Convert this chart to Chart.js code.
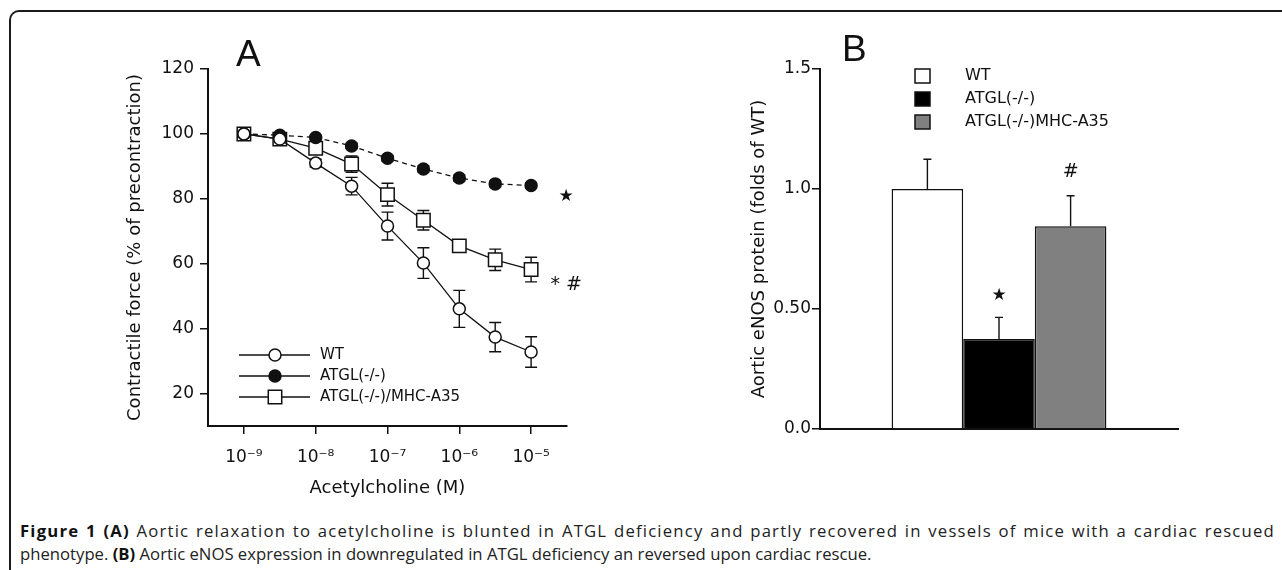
<!DOCTYPE html>
<html>
<head>
<meta charset="utf-8">
<script src="https://cdn.jsdelivr.net/npm/chart.js@4.4.1/dist/chart.umd.min.js"></script>
<style>
  html, body { margin: 0; padding: 0; background: #fff; }
  body { width: 1282px; height: 570px; position: relative; overflow: hidden; }
  #frame { position: absolute; left: 9px; top: 10px; width: 1300px; height: 620px;
           border-left: 2px solid #1a1a1a; border-top: 2px solid #1a1a1a; border-top-left-radius: 10px; }
  .wrap { position: absolute; }
  #wrapA { left: 100px; top: 30px; }
  #wrapB { left: 730px; top: 30px; }
  .panel { position: absolute; font: 37px "Liberation Sans"; line-height: 1; color: #111; }
  .cap { position: absolute; left: 20px; font: 16.7px "Open Sans"; line-height: 23px; color: #222; white-space: nowrap; }
  #cap1 { top: 519px; width: 1255px; white-space: normal; letter-spacing: 1.2px;
          text-align: justify; text-align-last: justify; }
  #cap2 { top: 542px; }
  .cap b { font-weight: 700; color: #111; }
</style>
</head>
<body>
<div id="frame"></div>
<div class="wrap" id="wrapA"><canvas id="chartA" width="500" height="475"></canvas></div>
<div class="wrap" id="wrapB"><canvas id="chartB" width="500" height="470"></canvas></div>
<div class="panel" style="left:236px;top:35px;">A</div>
<div class="panel" style="left:842px;top:30px;">B</div>
<div class="cap" id="cap1"><b>Figure 1 (A)</b> Aortic relaxation to acetylcholine is blunted in ATGL deficiency and partly recovered in vessels of mice with a cardiac rescued</div>
<div class="cap" id="cap2">phenotype. <b>(B)</b> Aortic eNOS expression in downregulated in ATGL deficiency an reversed upon cardiac rescue.</div>

<script>
// Panel A — concentration response (log10 M)
const doses = [-9, -8.5, -8, -7.5, -7, -6.5, -6, -5.5, -5];
const doseTicks = [-9, -8, -7, -6, -5];
const doseTickLabels = ["10\u207B\u2079", "10\u207B\u2078", "10\u207B\u2077", "10\u207B\u2076", "10\u207B\u2075"];

const wtForce     = [100, 98.4, 91.0, 83.9, 71.6, 60.2, 46.1, 37.4, 32.8];
const wtErr       = [0, 0.6, 1.2, 2.7, 4.3, 4.7, 5.7, 4.5, 4.7];
const atglForce   = [100, 99.6, 98.9, 96.3, 92.5, 89.2, 86.4, 84.6, 84.1];
const atglErr     = [0, 0.4, 0.6, 0.8, 0.9, 0.9, 0.9, 0.8, 0.8];
const rescueForce = [100, 98.4, 95.6, 90.7, 81.3, 73.4, 65.5, 61.2, 58.2];
const rescueErr   = [0, 0.8, 1.5, 2.5, 3.5, 3.0, 1.0, 3.3, 3.8];

const seriesLabelsA = ["WT", "ATGL(-/-)", "ATGL(-/-)/MHC-A35"];

// Panel B — eNOS protein
const groups = ["WT", "ATGL(-/-)", "ATGL(-/-)MHC-A35"];
const enos = [1.0, 0.375, 0.845];
const enosErr = [0.124, 0.09, 0.127];
const enosMarks = ["", "\u2605", "#"];
const enosTicks = [0, 0.5, 1.0, 1.5];
const enosTickLabels = ["0.0", "0.50", "1.0", "1.5"];

const INK = "#111";
const tickFont = { family: "DejaVu Sans", size: 17 };
const titleFont = { family: "DejaVu Sans", size: 18 };

const pts = ys => doses.map((d, i) => ({ x: d, y: ys[i] }));

// error bars drawn under the markers
const errorBars = {
  id: "errorBars",
  beforeDatasetsDraw(chart, args, opts) {
    const { ctx, scales: { y } } = chart;
    ctx.save();
    ctx.strokeStyle = INK;
    ctx.lineWidth = 1.4;
    chart.data.datasets.forEach((ds, di) => {
      if (!ds.errors) return;
      const meta = chart.getDatasetMeta(di);
      meta.data.forEach((el, i) => {
        const e = ds.errors[i];
        if (!e) return;
        const v = typeof ds.data[i] === "object" ? ds.data[i].y : ds.data[i];
        const px = el.x;
        const top = y.getPixelForValue(v + e);
        const bot = opts.upperOnly ? y.getPixelForValue(v) : y.getPixelForValue(v - e);
        const cap = opts.cap || 6;
        ctx.beginPath();
        ctx.moveTo(px, top); ctx.lineTo(px, bot);
        ctx.moveTo(px - cap, top); ctx.lineTo(px + cap, top);
        if (!opts.upperOnly) { ctx.moveTo(px - cap, bot); ctx.lineTo(px + cap, bot); }
        ctx.stroke();
      });
    });
    ctx.restore();
  }
};

// in-plot legend with line + marker (panel A)
const lineLegend = {
  id: "lineLegend",
  afterDraw(chart, args, opts) {
    const { ctx } = chart;
    ctx.save();
    chart.data.datasets.forEach((ds, i) => {
      const yy = opts.y + i * opts.gap;
      ctx.strokeStyle = INK;
      ctx.lineWidth = 1.4;
      ctx.setLineDash([]);
      ctx.beginPath(); ctx.moveTo(opts.x, yy); ctx.lineTo(opts.x + 71, yy); ctx.stroke();
      const mx = opts.x + 36;
      ctx.fillStyle = ds.pointBackgroundColor;
      ctx.lineWidth = 1.5;
      ctx.beginPath();
      if (ds.pointStyle === "rect") {
        const s = ds.pointRadius * Math.SQRT1_2;
        ctx.rect(mx - s, yy - s, 2 * s, 2 * s);
      } else {
        ctx.arc(mx, yy, ds.pointRadius, 0, Math.PI * 2);
      }
      ctx.fill(); ctx.stroke();
      ctx.fillStyle = INK;
      ctx.font = "15px 'DejaVu Sans'";
      ctx.textBaseline = "middle";
      ctx.fillText(ds.label, opts.x + 81, yy);
    });
    ctx.restore();
  }
};

// significance marks
const sigMarks = {
  id: "sigMarks",
  afterDatasetsDraw(chart, args, opts) {
    const { ctx, scales: { x, y } } = chart;
    ctx.save();
    ctx.fillStyle = INK;
    ctx.textBaseline = "middle";
    (opts.items || []).forEach(m => {
      ctx.font = m.font;
      const px = m.bar != null ? chart.getDatasetMeta(m.bar).data[0].x : x.getPixelForValue(m.x);
      ctx.textAlign = m.bar != null ? "center" : "left";
      ctx.fillText(m.text, px, y.getPixelForValue(m.y));
    });
    ctx.restore();
  }
};

// square legend (panel B)
const boxLegend = {
  id: "boxLegend",
  afterDraw(chart, args, opts) {
    const { ctx } = chart;
    ctx.save();
    chart.data.datasets.forEach((ds, i) => {
      const yy = opts.y + i * opts.gap;
      ctx.fillStyle = ds.backgroundColor;
      ctx.strokeStyle = INK;
      ctx.lineWidth = 1.5;
      ctx.fillRect(opts.x, yy - 7, 15, 14);
      ctx.strokeRect(opts.x, yy - 7, 15, 14);
      ctx.fillStyle = INK;
      ctx.font = "16px 'DejaVu Sans'";
      ctx.textBaseline = "middle";
      ctx.fillText(ds.label, opts.x + 50, yy);
    });
    ctx.restore();
  }
};

const axisGrid = { display: true, drawOnChartArea: false, drawTicks: true, tickLength: 8, color: INK, lineWidth: 1.5 };
const axisBorder = { display: true, color: INK, width: 2 };

new Chart(document.getElementById("chartA"), {
  type: "line",
  plugins: [errorBars, lineLegend, sigMarks],
  data: {
    datasets: [
      { label: seriesLabelsA[0], data: pts(wtForce), errors: wtErr, borderColor: INK, borderWidth: 1.3,
        pointStyle: "circle", pointRadius: 6, pointBorderWidth: 1.5, pointBackgroundColor: "#fff", pointBorderColor: INK },
      { label: seriesLabelsA[1], data: pts(atglForce), errors: atglErr, borderColor: INK, borderWidth: 1.3, borderDash: [5, 4],
        pointStyle: "circle", pointRadius: 6, pointBorderWidth: 1.5, pointBackgroundColor: INK, pointBorderColor: INK },
      { label: seriesLabelsA[2], data: pts(rescueForce), errors: rescueErr, borderColor: INK, borderWidth: 1.3,
        pointStyle: "rect", pointRadius: 9.5, pointBorderWidth: 1.5, pointBackgroundColor: "#fff", pointBorderColor: INK }
    ]
  },
  options: {
    responsive: false,
    animation: false,
    layout: { padding: { left: 0, top: 39, right: 33, bottom: 0 } },
    plugins: {
      legend: { display: false },
      tooltip: { enabled: false },
      errorBars: { cap: 6 },
      lineLegend: { x: 139, y: 325, gap: 21 },
      sigMarks: { items: [
        { x: -4.62, y: 80.6, text: "\u2605", font: "17px 'DejaVu Sans'" },
        { x: -4.73, y: 53.5, text: "* #", font: "italic 19px 'DejaVu Sans'" }
      ] }
    },
    scales: {
      x: {
        type: "linear", min: -9.5, max: -4.5,
        afterBuildTicks: s => { s.ticks = doseTicks.map(v => ({ value: v })); },
        afterFit: s => { s.height = 79; },
        ticks: { color: INK, font: tickFont, padding: 13, maxRotation: 0,
                 callback: v => doseTickLabels[doseTicks.indexOf(v)] },
        grid: axisGrid, border: axisBorder,
        title: { display: true, text: "Acetylcholine (M)", color: INK, font: titleFont, padding: { top: 0, bottom: 6 } }
      },
      y: {
        min: 10, max: 120,
        afterFit: s => { s.width = 108; },
        ticks: { stepSize: 20, includeBounds: false, color: INK, font: tickFont, padding: 6 },
        grid: axisGrid, border: axisBorder,
        title: { display: true, text: "Contractile force (% of precontraction)", color: INK, font: titleFont,
                 padding: { top: 25, bottom: 0 } }
      }
    }
  }
});

new Chart(document.getElementById("chartB"), {
  type: "bar",
  plugins: [errorBars, boxLegend, sigMarks],
  data: {
    labels: [""],
    datasets: groups.map((g, i) => ({
      label: g, data: [enos[i]], errors: [enosErr[i]],
      backgroundColor: ["#ffffff", "#000000", "#808080"][i], borderColor: INK, borderWidth: 1.5,
      barPercentage: 1, categoryPercentage: 0.6
    }))
  },
  options: {
    responsive: false,
    animation: false,
    layout: { padding: { left: 0, top: 39, right: 52, bottom: 0 } },
    plugins: {
      legend: { display: false },
      tooltip: { enabled: false },
      errorBars: { cap: 4, upperOnly: true },
      boxLegend: { x: 185, y: 46, gap: 23 },
      sigMarks: { items: enos.map((v, i) => ({ bar: i, y: v + enosErr[i] + (i === 2 ? 0.1 : 0.09), text: enosMarks[i],
        font: i === 2 ? "italic 19px 'DejaVu Sans'" : "17px 'DejaVu Sans'" })) }
    },
    scales: {
      x: {
        ticks: { display: false },
        grid: { display: false }, border: axisBorder,
        afterFit: s => { s.height = 71; }
      },
      y: {
        min: 0, max: 1.5,
        afterBuildTicks: s => { s.ticks = enosTicks.map(v => ({ value: v })); },
        afterFit: s => { s.width = 90; },
        ticks: { color: INK, font: tickFont, padding: 1,
                 callback: v => enosTickLabels[enosTicks.indexOf(v)] },
        grid: axisGrid, border: axisBorder,
        title: { display: true, text: "Aortic eNOS protein (folds of WT)", color: INK, font: titleFont,
                 padding: { top: 19, bottom: 0 } }
      }
    }
  }
});
</script>
</body>
</html>
